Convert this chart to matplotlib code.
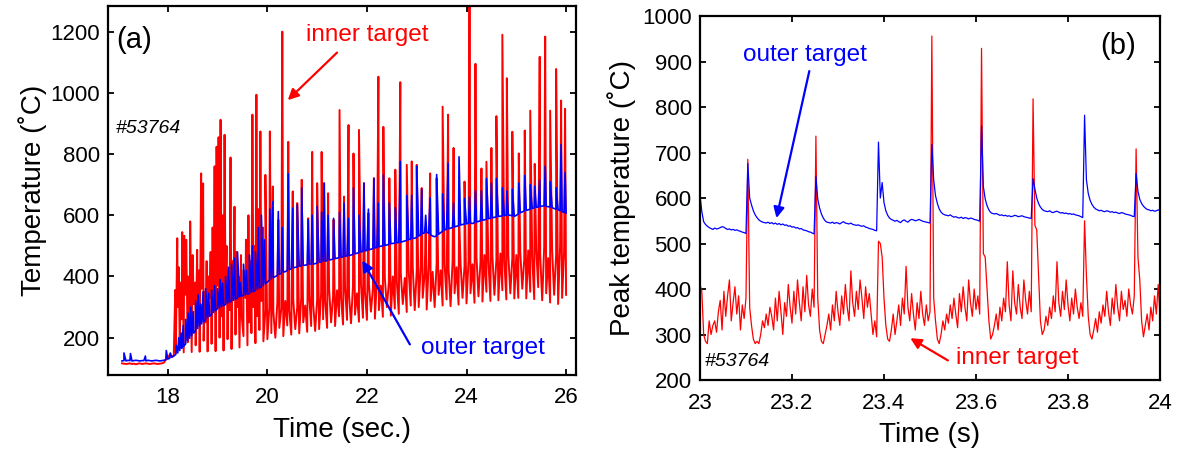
import numpy as np
import matplotlib
matplotlib.use('Agg')
import matplotlib.pyplot as plt
from matplotlib.ticker import FormatStrFormatter

plt.rcParams['font.family'] = ['Liberation Sans', 'DejaVu Sans']

# ---------------- panel (a): whole discharge, sampled every 0.04 s from 17.08 s ----------------
t0_a = 17.08
dt_a = 0.04

# inner target (red) background band
red_a = [116, 115, 114, 115, 116, 114, 115, 113, 115, 116, 114, 115, 116, 115, 114, 115, 116, 115, 114, 115, 116, 118,
         128, 133, 145, 138, 142,
         150, 300, 170, 260, 152, 340, 185, 230, 153, 310, 175, 280, 154, 360, 190, 250, 155, 330, 180, 290, 156, 370, 200,
         270, 158, 320, 195, 290, 163, 340, 210, 300, 168, 280, 205, 330, 175, 250, 215, 300, 182, 270, 225, 320, 188, 290,
         195, 300, 215, 285, 200, 315, 232, 295, 205, 320, 240, 290, 210, 325, 228, 300, 214, 330, 250, 305, 219, 335, 238, 310, 222,
         325, 228, 345, 260, 320, 232, 360, 250, 335, 238, 355, 270, 330, 243, 365, 258, 340, 247, 370, 275, 345, 252, 375, 265, 350,
         258, 375, 285, 360, 262, 390, 290, 370, 268, 395, 300, 380, 272, 400, 295, 385, 278, 410, 310, 395, 284, 415, 305, 430, 290,
         420, 300, 435, 330, 410, 292, 440, 320, 415, 300, 445, 340, 420, 305, 440, 325, 425, 303, 450, 345, 430, 308, 445, 330, 435,
         312, 450, 345, 440, 314, 465, 335, 445, 318, 470, 350, 450, 320, 468, 340, 455, 322, 475, 355, 452, 325, 470, 345, 460, 328,
         470, 330, 480, 360, 455, 328, 485, 350, 465, 326, 490, 365, 470, 322, 495, 345, 460, 315, 485, 340, 470, 310, 500, 330, 480, 340]

# outer target (blue) baseline
blue_a = [124, 125, 124, 126, 125, 124, 125, 126, 125, 124, 125, 125, 124, 126, 125, 124, 125, 126, 125, 124, 125, 126,
          128, 130, 133, 136, 140,
          145, 150, 158, 165, 172, 180, 190, 198, 206, 215, 222, 230, 238, 245, 252, 258, 265, 270, 276, 282, 288, 295, 298,
          302, 305, 308, 312, 316, 320, 322, 326, 330, 333, 336, 338, 340, 342, 345, 348, 350, 355, 358, 362, 366, 370, 376,
          382, 388, 392, 396, 400, 403, 407, 410, 414, 416, 419, 422, 425, 428, 430, 431, 433, 435, 436, 437, 438, 440, 441, 440, 442,
          444, 446, 447, 449, 450, 452, 454, 455, 457, 458, 460, 461, 463, 464, 466, 467, 468, 470, 472, 474, 476, 478, 480, 482, 484,
          485, 487, 489, 491, 493, 495, 497, 499, 500, 501, 503, 505, 507, 508, 509, 510, 511, 512, 514, 516, 518, 520, 522, 524, 525,
          528, 532, 536, 540, 543, 545, 541, 536, 532, 530, 533, 538, 543, 548, 552, 554, 556, 558, 560, 562, 564, 566, 568, 570, 571,
          572, 574, 575, 573, 576, 578, 580, 582, 584, 585, 587, 589, 590, 592, 593, 595, 596, 597, 598, 599, 600, 601, 600, 598, 596,
          600, 604, 608, 611, 614, 616, 618, 620, 622, 624, 626, 627, 628, 630, 631, 629, 628, 627, 625, 622, 620, 618, 615, 612, 609, 607]

# ELM spikes on the inner target
red_spike_t = [18.15, 18.19, 18.22, 18.26, 18.29, 18.33, 18.37, 18.41, 18.45, 18.50, 18.55, 18.59, 18.63, 18.67, 18.71,
               18.74, 18.78, 18.82, 18.86, 18.90, 18.94, 18.98, 19.02, 19.06, 19.10, 19.14, 19.18, 19.22, 19.26, 19.30,
               19.34, 19.38, 19.42, 19.47, 19.52, 19.57, 19.62, 19.66, 19.70, 19.74, 19.78, 19.82, 19.86, 19.91, 19.96,
               20.05, 20.11, 20.22, 20.30, 20.42, 20.51, 20.60, 20.69, 20.82, 20.90, 21.00, 21.09, 21.14, 21.22, 21.33,
               21.45, 21.54, 21.63, 21.73, 21.84, 21.94, 22.03, 22.14, 22.23, 22.33, 22.45, 22.57, 22.67, 22.80, 22.90,
               23.00, 23.10, 23.18, 23.27, 23.40, 23.52, 23.63, 23.74, 23.85, 23.96, 24.06, 24.18, 24.30, 24.40, 24.50,
               24.60, 24.72, 24.81, 24.92, 25.05, 25.17, 25.28, 25.37, 25.47, 25.58, 25.68, 25.80, 25.90, 25.98]
red_spike_v = [356, 525, 430, 380, 545, 533, 520, 400, 580, 470, 380, 487, 420, 737, 704,
               350, 450, 400, 480, 560, 760, 824, 855, 912, 600, 863, 500, 420, 789, 450,
               628, 480, 400, 470, 420, 520, 600, 450, 929, 500, 994, 620, 874, 560, 732,
               874, 694, 585, 1200, 840, 678, 640, 716, 590, 807, 705, 807, 705, 672, 585,
               944, 661, 895, 802, 879, 705, 607, 721, 1053, 889, 721, 749, 1035, 765, 776,
               765, 689, 560, 737, 721, 955, 929, 820, 600, 710, 1300, 1095, 753, 775, 820,
               924, 1190, 1048, 873, 802, 877, 942, 768, 1118, 1184, 942, 1078, 975, 948]

# ELM spikes on the outer target
blue_spike_t = [17.12, 17.25, 17.55, 17.97, 18.05,
                18.17, 18.22, 18.27, 18.31, 18.36, 18.41, 18.46, 18.51, 18.56, 18.61, 18.66, 18.71, 18.76, 18.82,
                18.88, 18.94, 19.00, 19.05, 19.10, 19.16, 19.22, 19.28, 19.34, 19.40, 19.46, 19.52, 19.58, 19.64,
                19.70, 19.76, 19.82, 19.88, 19.94,
                20.05, 20.11, 20.22, 20.30, 20.42, 20.51, 20.60, 20.69, 20.82, 20.90, 21.00, 21.09, 21.14, 21.22,
                21.33, 21.45, 21.54, 21.63, 21.73, 21.84, 21.94, 22.03, 22.14, 22.23, 22.33, 22.45, 22.57, 22.67,
                22.80, 22.90, 23.00, 23.10, 23.18, 23.27, 23.40, 23.52, 23.63, 23.74, 23.85, 23.96, 24.06, 24.18,
                24.30, 24.40, 24.50, 24.60, 24.72, 24.81, 24.92, 25.05, 25.17, 25.28, 25.37, 25.47, 25.58, 25.68,
                25.80, 25.90, 25.98]
blue_spike_v = [150, 148, 140, 158, 150,
                175, 200, 215, 240, 260, 280, 300, 285, 320, 340, 310, 350, 360, 345,
                355, 370, 360, 390, 378, 400, 430, 440, 460, 480, 380, 440, 420, 470,
                500, 480, 560, 600, 520,
                620, 645, 612, 560, 736, 623, 634, 689, 585, 600, 629, 610, 705, 600,
                590, 610, 640, 590, 689, 600, 705, 620, 721, 640, 732, 640, 625, 776,
                665, 665, 760, 685, 600, 657, 733, 670, 770, 640, 791, 655, 660, 680,
                680, 720, 705, 720, 690, 680, 685, 705, 730, 700, 695, 715, 760, 710,
                690, 831, 740]

# ---------------- panel (b): 23-24 s, sampled every 4 ms ----------------
t0_b = 23.0
dt_b = 0.004

red_b = [410, 395, 300, 285, 280, 330, 300, 320, 330, 305, 350, 375, 310, 395, 340, 385, 420, 330, 370, 405, 345, 385, 310, 365, 335, 380,
         685,
         360, 320, 290, 280, 285, 280, 300, 330, 315, 345, 320, 360, 340, 310, 380, 330, 395, 350, 300, 370,
         340, 410, 360, 325, 395, 345, 420, 370, 330, 405, 350, 430, 365, 340, 400, 360,
         736,
         380, 310, 285, 280, 300, 320, 345, 310, 365, 330, 395, 350, 320, 385, 345, 410, 360, 330, 440, 370,
         340, 395, 355, 420, 380, 335, 405, 360, 390, 345, 300, 330, 295,
         505, 500,
         470, 380, 320, 290, 285, 310, 345, 300, 330, 365, 320, 380, 345, 450, 360, 330, 390, 345, 310, 370,
         335, 395, 345, 320, 365, 330, 350,
         956,
         380, 330, 290, 280, 300, 330, 310, 345, 325, 365, 335, 380, 345, 315, 390, 350, 405, 360, 330, 420,
         370, 340, 400, 355, 385, 345,
         929, 478, 470,
         400, 330, 290, 300, 320, 345, 310, 360, 330, 380, 350, 460, 365, 330, 440, 370, 345, 410, 360, 335,
         420, 375, 345, 395, 350,
         818, 540, 530, 430, 330, 300,
         310, 340, 320, 360, 335, 385, 350, 460, 370, 340, 395, 355, 420, 365, 330, 380, 345, 400, 360, 335, 370, 340,
         550, 430, 340, 300, 290,
         310, 335, 305, 350, 325, 365, 340, 395, 350, 320, 380, 345, 410, 360, 330, 395, 355, 375, 340, 400, 365, 345, 385,
         708, 470, 420, 330, 295,
         320, 345, 310, 360, 330, 385, 345, 410, 340]

blue_b = [607, 570, 548, 542, 538,
          535, 533, 531, 534, 532, 533, 535, 537, 536, 533, 531, 532, 530, 531, 529, 530, 528, 527, 525, 524, 522,
          676,
          600, 585, 572, 563, 557, 552, 549, 547, 546,
          545, 547, 544, 546, 543, 545, 542, 544, 541, 543, 540, 541, 538, 539, 536, 537, 534, 535, 532, 533,
          530, 529, 528, 526, 525, 523, 521,
          647,
          598, 578, 565, 556, 550, 547,
          546, 545, 547, 544, 546, 545, 543, 546, 548, 545, 544, 543, 545, 542, 541, 540, 541, 539, 538, 539,
          536, 535, 533, 532, 531, 529, 528,
          723, 600, 634,
          590, 572, 562, 556, 553, 551,
          549, 551, 548, 546, 550, 552, 549, 547, 551, 553, 552, 550, 551, 553, 551, 549, 548, 547, 546, 545,
          718,
          640, 605, 588, 576, 569, 565, 563,
          562, 561, 563, 560, 558, 559, 557, 556, 558, 555, 557, 556, 554, 556, 555, 553, 552, 551, 549,
          758,
          625, 598, 583, 574, 568, 566,
          565, 566, 564, 562, 563, 561, 562, 560, 561, 559, 560, 562, 561, 559, 560, 561, 559, 558, 557, 556, 555,
          643,
          620, 600, 588, 580, 575, 572,
          571, 570, 572, 569, 568, 570, 571, 569, 567, 568, 566, 567, 565, 566, 564, 565, 563, 562, 561, 559, 557,
          782,
          640, 610, 595, 586, 580, 576,
          574, 572, 573, 571, 570, 572, 571, 569, 570, 568, 569, 567, 566, 568, 567, 565, 564, 563, 562, 560, 559,
          654,
          615, 597, 588, 582, 578,
          575, 574, 572, 573, 571, 572, 574, 572]

RED = '#ff0000'
BLUE = '#0000ff'


def add_spikes(t, v, st, sv):
    # put the spike samples in between the regular samples
    tt = np.concatenate([t, np.asarray(st, float)])
    vv = np.concatenate([np.asarray(v, float), np.asarray(sv, float)])
    order = np.argsort(tt, kind='stable')
    return tt[order], vv[order]


def style_axes(ax):
    ax.tick_params(direction='in', length=4, width=1.3, labelsize=16, top=True, right=True)
    ax.tick_params(axis='x', pad=9)
    ax.tick_params(axis='y', pad=6)
    for s in ax.spines.values():
        s.set_linewidth(1.6)


fig = plt.figure(figsize=(11.86, 4.53), dpi=100)

# ---- (a)
ax1 = fig.add_axes([0.0911, 0.1722, 0.3946, 0.8146])
t_a = t0_a + dt_a * np.arange(len(red_a))
tr, vr = add_spikes(t_a, red_a, red_spike_t, red_spike_v)
tb, vb = add_spikes(t_a, blue_a, blue_spike_t, blue_spike_v)
ax1.plot(tr, vr, color=RED, lw=1.4)
ax1.plot(tb, vb, color=BLUE, lw=1.2)
ax1.set_xlim(16.8, 26.2)
ax1.set_ylim(78, 1284)
ax1.set_xticks([18, 20, 22, 24, 26])
ax1.set_yticks([200, 400, 600, 800, 1000, 1200])
ax1.set_xlabel('Time (sec.)', fontsize=20, labelpad=6)
ax1.set_ylabel('Temperature (\u02daC)', fontsize=20, labelpad=2)
style_axes(ax1)
ax1.text(16.97, 1173, '(a)', fontsize=21, va='center', ha='left')
ax1.text(16.96, 885, '#53764', fontsize=14, style='italic', va='center', ha='left')
ax1.text(22.0, 1189, 'inner target', color=RED, fontsize=17.5, ha='center', va='center')
ax1.text(24.34, 166, 'outer target', color=BLUE, fontsize=17.5, ha='center', va='center')
ax1.annotate('', xy=(20.37, 970), xytext=(21.44, 1138),
             arrowprops=dict(arrowstyle='-|>', color=RED, lw=1.6, mutation_scale=16))
ax1.annotate('', xy=(21.88, 460), xytext=(22.89, 170),
             arrowprops=dict(arrowstyle='-|>', color=BLUE, lw=1.6, mutation_scale=16))

# ---- (b)
ax2 = fig.add_axes([0.5902, 0.1611, 0.3879, 0.8035])
t_b = t0_b + dt_b * np.arange(len(red_b))
ax2.plot(t_b, red_b, color=RED, lw=0.9)
ax2.plot(t0_b + dt_b * np.arange(len(blue_b)), blue_b, color=BLUE, lw=0.9)
ax2.set_xlim(23, 24)
ax2.set_ylim(200, 1000)
ax2.set_xticks([23, 23.2, 23.4, 23.6, 23.8, 24])
ax2.xaxis.set_major_formatter(FormatStrFormatter('%g'))
ax2.set_yticks(range(200, 1001, 100))
ax2.set_xlabel('Time (s)', fontsize=20, labelpad=6)
ax2.set_ylabel('Peak temperature (\u02daC)', fontsize=20, labelpad=4)
style_axes(ax2)
ax2.text(23.91, 934, '(b)', fontsize=21, va='center', ha='center')
ax2.text(23.01, 240, '#53764', fontsize=14, style='italic', va='center', ha='left')
ax2.text(23.228, 914, 'outer target', color=BLUE, fontsize=17.5, ha='center', va='center')
ax2.text(23.69, 249, 'inner target', color=RED, fontsize=17.5, ha='center', va='center')
ax2.annotate('', xy=(23.165, 550), xytext=(23.239, 885),
             arrowprops=dict(arrowstyle='-|>', color=BLUE, lw=1.6, mutation_scale=16))
ax2.annotate('', xy=(23.452, 295), xytext=(23.544, 240),
             arrowprops=dict(arrowstyle='-|>', color=RED, lw=1.6, mutation_scale=16))

fig.savefig('out.png', dpi=100)
